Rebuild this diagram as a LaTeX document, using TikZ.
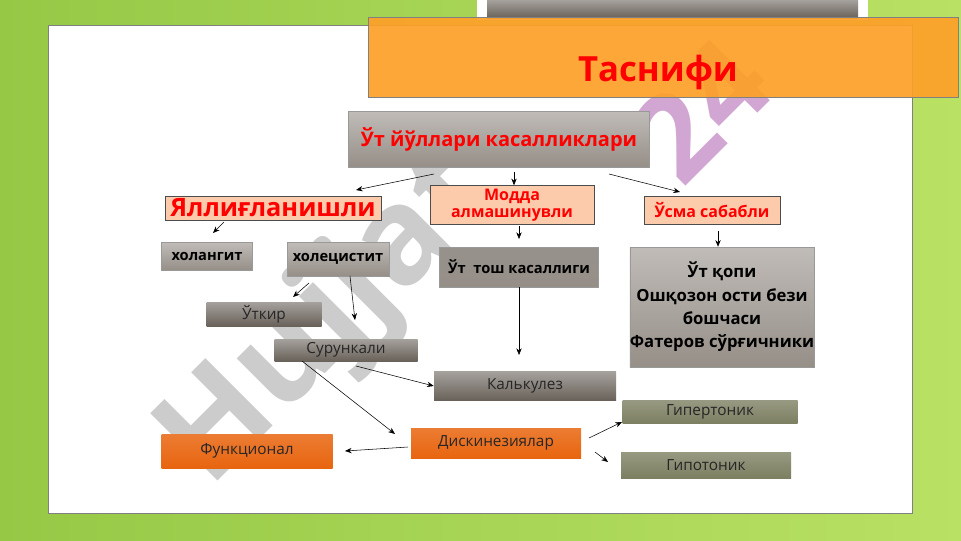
\documentclass[tikz,border=0pt]{standalone}
\usepackage{fontspec}
\setmainfont{Open Sans}
\usetikzlibrary{arrows.meta}
\definecolor{salmon}{RGB}{252,203,172}
\definecolor{boxgray}{RGB}{150,143,136}
\definecolor{darkbox}{RGB}{105,98,90}
\definecolor{olivebox}{RGB}{125,127,98}
\definecolor{orangebox}{RGB}{232,101,15}
\definecolor{titleorange}{RGB}{253,160,40}
\definecolor{bgleft}{RGB}{150,200,70}
\definecolor{bgright}{RGB}{185,225,100}
\tikzset{
  salmonbox/.style={draw=black!70, fill=salmon, text=red, font=\bfseries},
  graybox/.style={draw=black!40, top color=boxgray!60, bottom color=boxgray, text=black, font=\bfseries},
  darkbox/.style={top color=darkbox!60, bottom color=darkbox, text=black!85},
  olivebox/.style={top color=olivebox!80, bottom color=olivebox, text=black!85},
  orangebox/.style={top color=orangebox!85, bottom color=orangebox, text=black!85},
  arr/.style={-{Stealth[length=5pt,width=4pt]}, thin}
}
\begin{document}
\begin{tikzpicture}[x=0.75pt,y=0.75pt,yscale=-1,xscale=1]
\useasboundingbox (0,0) rectangle (961,540);

% background
\shade[left color=bgleft, right color=bgright] (0,0) rectangle (961,540);
\fill[white] (48,25) rectangle (912,513);
\draw[black!50] (48,25) rectangle (912,513);
\fill[white] (477,0) rectangle (868,20);
\fill[darkbox] (487,0) rectangle (858,18);

% watermark
\node[rotate=45, text=black!20, font=\bfseries\fontsize{100}{100}\selectfont] at (330,320) {Hujjat};
\node[rotate=45, text=violet!35, font=\bfseries\fontsize{90}{90}\selectfont] at (700,110) {24};

% title
\node[draw=black!50, fill=titleorange, fill opacity=0.92, minimum width=590*0.75pt, minimum height=80*0.75pt, inner sep=0pt] (title) at (663,57) {};
\node[text=red, font=\bfseries\fontsize{26}{30}\selectfont] at (658,72) {Таснифи};

% nodes
\node[graybox, text=red, minimum width=301*0.75pt, minimum height=56*0.75pt, font=\bfseries\fontsize{15}{18}\selectfont] (root) at (499,139) {Ўт йўллари касалликлари};
\node[salmonbox, minimum width=216*0.75pt, minimum height=24*0.75pt, inner sep=0pt, font=\bfseries\fontsize{19}{18}\selectfont] (yal) at (273,208) {Яллиғланишли};
\node[salmonbox, minimum width=164*0.75pt, minimum height=39*0.75pt, inner sep=0pt, align=center, font=\bfseries\fontsize{12}{12.5}\selectfont] (modda) at (512,205) {Модда\\алмашинувли};
\node[salmonbox, minimum width=136*0.75pt, minimum height=28*0.75pt, inner sep=0pt, font=\bfseries\fontsize{12}{13}\selectfont] (usma) at (712,210) {Ўсма сабабли};

\node[graybox, minimum width=91*0.75pt, minimum height=28*0.75pt, inner sep=0pt, font=\bfseries\fontsize{11}{12}\selectfont] (holan) at (207,256) {холангит};
\node[graybox, minimum width=102*0.75pt, minimum height=34*0.75pt, inner sep=0pt, font=\bfseries\fontsize{11}{12}\selectfont] (holec) at (338,259) {холецистит};
\node[graybox, top color=darkbox!70, minimum width=159*0.75pt, minimum height=40*0.75pt, inner sep=0pt, font=\bfseries\fontsize{11}{12}\selectfont] (tosh) at (519,267) {Ўт~ тош касаллиги};
\node[graybox, minimum width=180*0.75pt, minimum height=120*0.75pt, inner sep=0pt, align=center, font=\bfseries\fontsize{12.5}{17.5}\selectfont] (qopi) at (722,307) {Ўт қопи\\Ошқозон ости бези\\бошчаси\\Фатеров сўрғичники};

\node[darkbox, minimum width=115*0.75pt, minimum height=24*0.75pt, inner sep=0pt, font=\fontsize{11.5}{12}\selectfont] (utkir) at (264,314) {Ўткир};
\node[darkbox, minimum width=143*0.75pt, minimum height=22*0.75pt, inner sep=0pt, font=\fontsize{11.5}{12}\selectfont] (surun) at (346,350) {Сурункали};
\node[darkbox, minimum width=182*0.75pt, minimum height=29*0.75pt, inner sep=0pt, font=\fontsize{11.5}{12}\selectfont] (kalk) at (525,386) {Калькулез};
\node[olivebox, minimum width=175*0.75pt, minimum height=23*0.75pt, inner sep=0pt, font=\fontsize{11.5}{12}\selectfont] (giper) at (710,412) {Гипертоник};
\node[orangebox, minimum width=170*0.75pt, minimum height=30*0.75pt, inner sep=0pt, font=\fontsize{11.5}{12}\selectfont] (disk) at (496,443) {Дискинезиялар};
\node[orangebox, minimum width=171*0.75pt, minimum height=34*0.75pt, inner sep=0pt, font=\fontsize{11.5}{12}\selectfont] (funk) at (247,451) {Функционал};
\node[olivebox, minimum width=170*0.75pt, minimum height=26*0.75pt, inner sep=0pt, font=\fontsize{11.5}{12}\selectfont] (gipo) at (706,465) {Гипотоник};

% connectors
\coordinate (r1) at (434,174);
\coordinate (r3) at (609,174);
\draw[arr] (r1) -- (356,190);
\draw[arr] (root.south) ++(15,5) -- (modda.north -| 514,0);
\draw[arr] (r3) -- (680,192);
\draw[arr] (224,222) -- (213,233);
\draw[arr] (309,283) -- (293,297);
\draw[arr] (350,276) -- (355,320);
\draw[arr] (519,226) -- (519,239);
\draw[arr] (tosh.south) -- (519,355);
\draw[arr] (718,231) -- (qopi.north -| 718,0);
\draw[arr] (356,366) -- (kalk.west);
\draw[arr] (302,361) -- (395,434);
\draw[arr] (408,447) -- (345,451);
\draw[arr] (589,438) -- (622,422);
\draw[arr] (595,452) -- (608,462);
\end{tikzpicture}
\end{document}
